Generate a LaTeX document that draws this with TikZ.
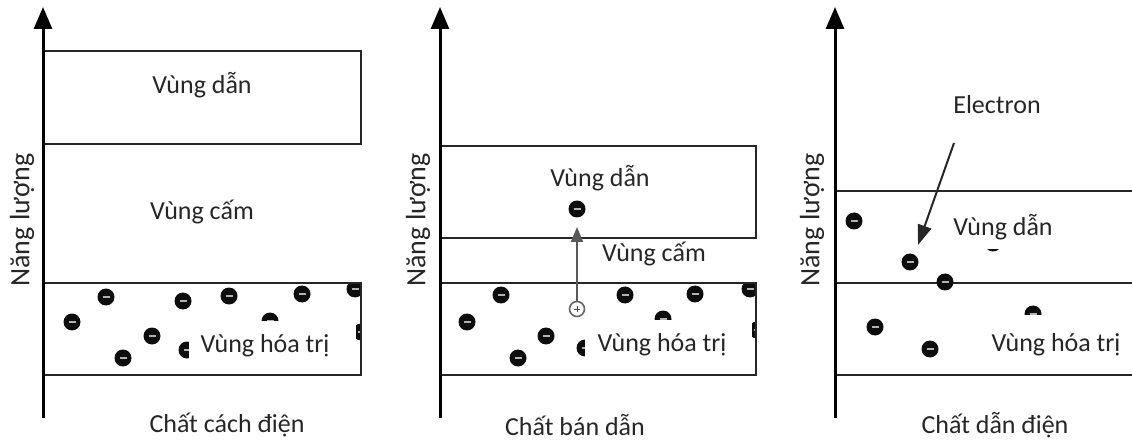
\documentclass[tikz,border=0pt]{standalone}
\usepackage{fontspec}
\setmainfont{Carlito}
\usetikzlibrary{arrows.meta}
\begin{document}
\begin{tikzpicture}[x=1pt,y=-1pt,
  band/.style={draw=black!85,line width=2.6pt},
  axisline/.style={draw=black,line width=3pt,-{Triangle[length=22pt,width=18pt]}},
  elec/.style={circle,fill=black!95,inner sep=0pt,minimum size=17pt,
     path picture={\draw[black!30,line width=2pt] ([xshift=-3.5pt]path picture bounding box.center) -- ([xshift=3.5pt]path picture bounding box.center);}},
  hole/.style={circle,draw=black!60,fill=white,line width=1.6pt,inner sep=0pt,minimum size=15pt,
     path picture={\draw[black!70,line width=1pt] ([xshift=-3pt]path picture bounding box.center) -- ([xshift=3pt]path picture bounding box.center) ([yshift=-3pt]path picture bounding box.center) -- ([yshift=3pt]path picture bounding box.center);}},
  lbl/.style={font=\fontsize{26}{30}\selectfont,text=black!85,inner sep=1pt},
  ylbl/.style={lbl,font=\fontsize{28}{32}\selectfont,rotate=90},
  ptr/.style={draw=black!85,line width=2pt,-{Triangle[length=20pt,width=14pt]}}
]
\useasboundingbox (0,0) rectangle (1132,446);

% ---------- Panel 1: insulator ----------
\coordinate (a1s) at (43,418);
\coordinate (a1e) at (43,7);
\begin{scope}
\clip (43,283) rectangle (361,375);
\node[elec] (p1e1) at (72,322) {};
\node[elec] (p1e2) at (106,297) {};
\node[elec] (p1e3) at (123,358) {};
\node[elec] (p1e4) at (152,336) {};
\node[elec] (p1e5) at (183,301) {};
\node[elec] (p1e6) at (229,296) {};
\node[elec] (p1e7) at (270,321) {};
\node[elec] (p1e8) at (302,294) {};
\node[elec] (p1e9) at (355,289) {};
\node[elec] (p1e10) at (187,350) {};
\node[elec] (p1e11) at (361,332) {};
\end{scope}
\fill[white] (189,321) rectangle (356,373);
\draw[band] (43,51) rectangle (361,144);
\draw[band] (43,283) rectangle (361,375);
\draw[axisline] (a1s) -- (a1e);
\node[lbl] (p1c) at (202,85) {Vùng dẫn};
\node[lbl] (p1g) at (202,212) {Vùng cấm};
\node[lbl] (p1v) at (265,346) {Vùng hóa trị};
\node[ylbl] (p1y) at (22,220) {Năng lượng};
\node[lbl] (p1t) at (227,425) {Chất cách điện};

% ---------- Panel 2: semiconductor ----------
\coordinate (a2s) at (440,418);
\coordinate (a2e) at (440,7);
\begin{scope}
\clip (440,283) rectangle (756,375);
\node[elec] (p2e1) at (467,322) {};
\node[elec] (p2e2) at (501,295) {};
\node[elec] (p2e3) at (518,358) {};
\node[elec] (p2e4) at (546,336) {};
\node[elec] (p2e5) at (625,295) {};
\node[elec] (p2e6) at (663,319) {};
\node[elec] (p2e7) at (695,294) {};
\node[elec] (p2e8) at (750,289) {};
\node[elec] (p2e9) at (585,348) {};
\node[elec] (p2e10) at (757,330) {};
\end{scope}
\fill[white] (585,320) rectangle (752,373);
\draw[band] (440,146) rectangle (756,238);
\draw[band] (440,283) rectangle (756,375);
\node[elec] (p2ec) at (577,209) {};
\node[hole] (p2h) at (577,309) {};
\coordinate (p2tip) at (577,227);
\draw[draw=black!65,line width=1.8pt,-{Triangle[length=15pt,width=12pt]}] (p2h) -- (p2tip);
\draw[axisline] (a2s) -- (a2e);
\node[lbl] (p2c) at (600,178) {Vùng dẫn};
\node[lbl] (p2g) at (654,254) {Vùng cấm};
\node[lbl] (p2v) at (662,345) {Vùng hóa trị};
\node[ylbl] (p2y) at (418,220) {Năng lượng};
\node[lbl] (p2t) at (575,425) {Chất bán dẫn};

% ---------- Panel 3: conductor ----------
\coordinate (a3s) at (835,418);
\coordinate (a3e) at (835,7);
\node[elec] (p3e1) at (854,221) {};
\node[elec] (p3e2) at (910,262) {};
\node[elec] (p3e4) at (875,327) {};
\node[elec] (p3e5) at (930,349) {};
\node[elec] (p3e6) at (1033,314) {};
\node[elec] (p3e7) at (993,243) {};
\fill[white] (945,203) rectangle (1062,249);
\fill[white] (988,315) rectangle (1132,372);
\draw[band] (835,191) -- (1132,191);
\draw[band] (835,283) -- (1132,283);
\draw[band] (835,375) -- (1132,375);
\node[elec] (p3e3) at (945,282) {};
\draw[axisline] (a3s) -- (a3e);
\node[lbl] (p3l) at (997,105) {Electron};
\coordinate (p3as) at (954,143);
\coordinate (p3ae) at (918,245);
\draw[ptr] (p3as) -- (p3ae);
\node[lbl] (p3c) at (1003,227) {Vùng dẫn};
\node[lbl] (p3v) at (1056,345) {Vùng hóa trị};
\node[ylbl] (p3y) at (812,220) {Năng lượng};
\node[lbl] (p3t) at (995,425) {Chất dẫn điện};
\end{tikzpicture}
\end{document}
